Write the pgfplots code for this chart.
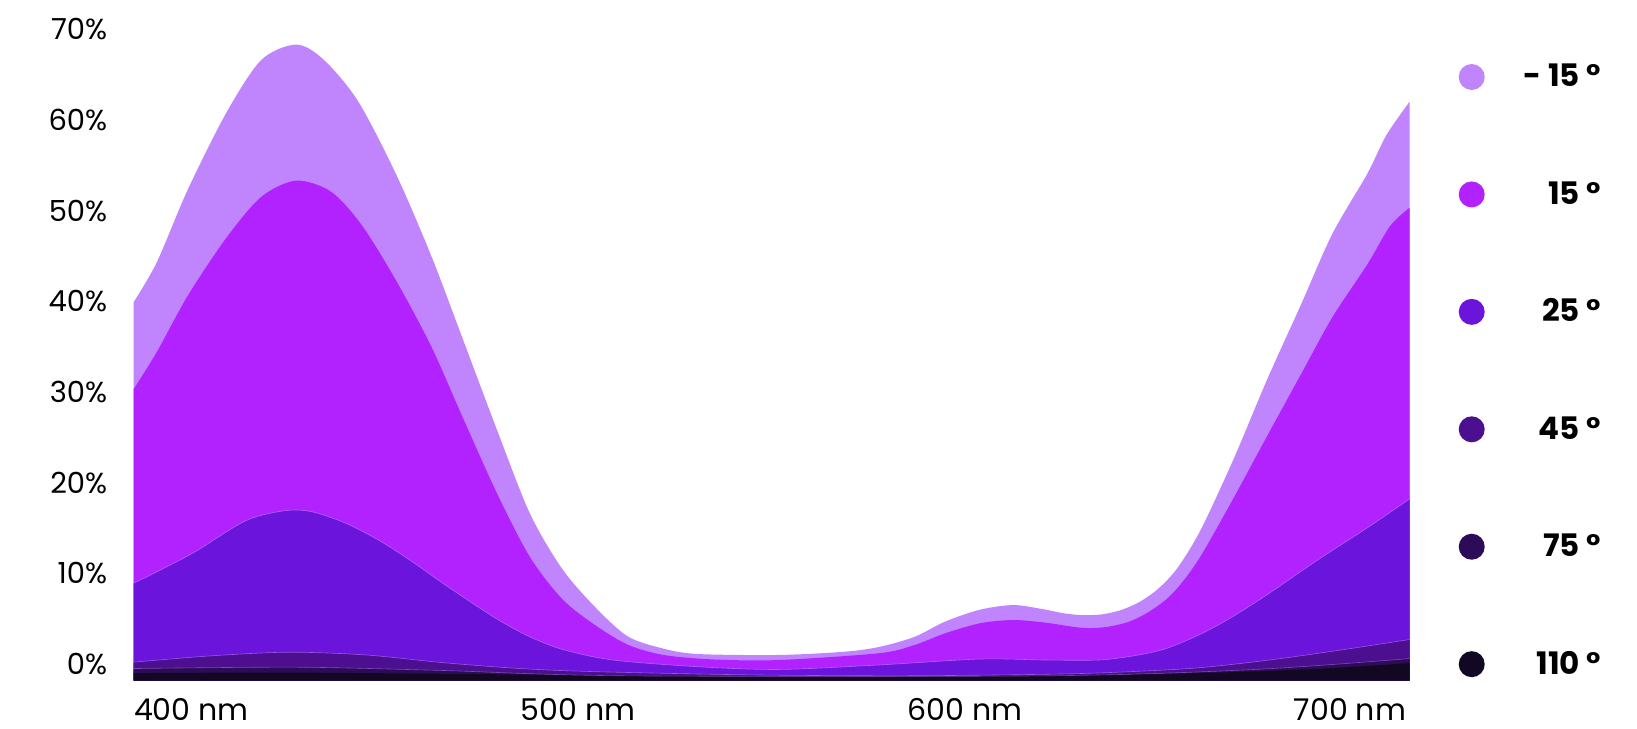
\documentclass[border=0pt]{standalone}
\usepackage{fontspec}
\setmainfont{Poppins}
\usepackage{pgfplots}
\pgfplotsset{compat=1.18}
\usepgfplotslibrary{fillbetween}
\definecolor{cA}{HTML}{C084FC}
\definecolor{cB}{HTML}{B122FE}
\definecolor{cC}{HTML}{6B14DB}
\definecolor{cD}{HTML}{4B0F8F}
\definecolor{cE}{HTML}{2D0C57}
\definecolor{cF}{HTML}{130824}

\pgfplotstableread{
x y
400 39.9
406 44.3
414 52.3
424 60.8
433 66.6
442 68.3
449 66.7
458 62.1
468 53.9
477 45.0
485 36.0
494 25.8
502.5 16.6
511 10.4
520 6.0
528 3.0
537 1.7
546 1.1
567 1.0
584 1.36
593 1.9
602 3.0
610 4.7
619 6.0
627.5 6.5
634.5 6.1
640.5 5.6
645 5.4
650 5.45
655 5.9
660 6.8
665 8.3
670 10.6
676 14.8
684.5 22.6
693 31.2
702 39.7
710 47.4
719 54.0
724 58.3
730 62.0
}\dataA

\pgfplotstableread{
x y
400 30.3
406 34.4
414 40.6
424 47.0
433 51.5
442 53.3
451 52.1
459 48.4
468 42.2
477 35.0
485 27.3
494 18.8
502.5 11.8
511 7.1
520 4.1
528 2.1
537 1.0
550 0.5
567 0.44
593 1.2
602 2.1
610 3.4
619 4.5
627.5 4.85
636 4.55
645 4.0
651 4.05
657 4.6
662 5.6
667 7.1
671 8.9
676 11.9
684.5 18.3
693 25.0
702 32.0
710 38.2
719 44.0
725 48.3
730 50.3
}\dataB

\pgfplotstableread{
x y
400 8.9
408 10.6
416 12.4
429 15.8
439 16.9
446 16.8
455 15.5
464 13.5
472 11.3
480 8.9
488 6.6
495 4.7
502.5 3.0
511 1.6
524 0.44
546 -0.3
567 -0.6
593 -0.1
619 0.55
636 0.44
650 0.45
660 1.0
667 1.7
675 3.1
683 4.9
693 7.6
706 11.4
719 15.0
730 18.2
}\dataC

\pgfplotstableread{
x y
400 0.2
420 0.9
440 1.3
460 1.0
480 0.15
500 -0.5
520 -0.85
560 -1.2
600 -1.3
640 -1.1
660 -0.8
676 -0.4
693 0.4
710 1.4
730 2.7
}\dataD

\pgfplotstableread{
x y
400 -0.5
442 -0.35
479 -0.7
527 -1.3
636 -1.3
690 -0.6
730 0.6
}\dataE

\pgfplotstableread{
x y
400 -1.0
442 -0.95
500 -1.15
581 -1.4
663 -1.1
703 -0.6
730 0.1
}\dataF

\begin{document}
\begin{tikzpicture}
\begin{axis}[
  at={(66.8pt,23.65pt)}, anchor=south west,
  scale only axis, width=637.95pt, height=325.75pt,
  xmin=400, xmax=730, ymin=-1.84, ymax=70,
  axis line style={draw=none}, tick style={draw=none},
  xtick={400,500,600,700},
  xticklabels={400 nm,500 nm,600 nm,700 nm},
  ytick={0,10,20,30,40,50,60,70},
  yticklabels={0\%,10\%,20\%,30\%,40\%,50\%,60\%,70\%},
  xticklabel style={anchor=north west, inner sep=0pt, yshift=-8.6pt, font=\fontsize{15}{17}\selectfont},
  yticklabel style={anchor=east, inner sep=0pt, xshift=-13pt, font=\fontsize{14.5}{17}\selectfont},
  legend style={at={(1,1)}, anchor=north west, xshift=21.4pt, yshift=-15.2pt, draw=none, fill=none,
    row sep=45.7pt, column sep=19.5pt, font=\bfseries\fontsize{15.5}{17}\selectfont,
    nodes={inner sep=0pt}},
  legend cell align=right,
  legend image code/.code={\fill[#1] (6.5pt,0pt) circle (6.5pt);},
]
\addplot[name path=base, draw=none, forget plot] coordinates {(400,-1.84) (730,-1.84)};
\addplot[name path=pA, draw=none, smooth, forget plot] table {\dataA};
\addplot[name path=pB, draw=none, smooth, forget plot] table {\dataB};
\addplot[name path=pC, draw=none, smooth, forget plot] table {\dataC};
\addplot[name path=pD, draw=none, smooth, forget plot] table {\dataD};
\addplot[name path=pE, draw=none, smooth, forget plot] table {\dataE};
\addplot[name path=pF, draw=none, smooth, forget plot] table {\dataF};
\addplot[fill=cA, draw=none, forget plot] fill between[of=pA and base];
\addplot[fill=cB, draw=none, forget plot] fill between[of=pB and base];
\addplot[fill=cC, draw=none, forget plot] fill between[of=pC and base];
\addplot[fill=cD, draw=none, forget plot] fill between[of=pD and base];
\addplot[fill=cE, draw=none, forget plot] fill between[of=pE and base];
\addplot[fill=cF, draw=none, forget plot] fill between[of=pF and base];
\addplot[draw=cA, line width=0.3pt, draw opacity=0.7, smooth, forget plot] table {\dataC};
\addplot[draw=cA, line width=0.3pt, draw opacity=0.6, smooth, forget plot] table {\dataD};
\addplot[draw=cA, line width=0.3pt, draw opacity=0.5, smooth, forget plot] table {\dataE};
\addlegendimage{fill=cA, draw=none}
\addlegendimage{fill=cB, draw=none}
\addlegendimage{fill=cC, draw=none}
\addlegendimage{fill=cD, draw=none}
\addlegendimage{fill=cE, draw=none}
\addlegendimage{fill=cF, draw=none}
\legend{- 15 °, 15 °, 25 °, 45 °, 75 °, 110 °}
\end{axis}
\pgfresetboundingbox
\path[use as bounding box] (0pt,0pt) rectangle (818.5pt,364pt);
\end{tikzpicture}
\end{document}
